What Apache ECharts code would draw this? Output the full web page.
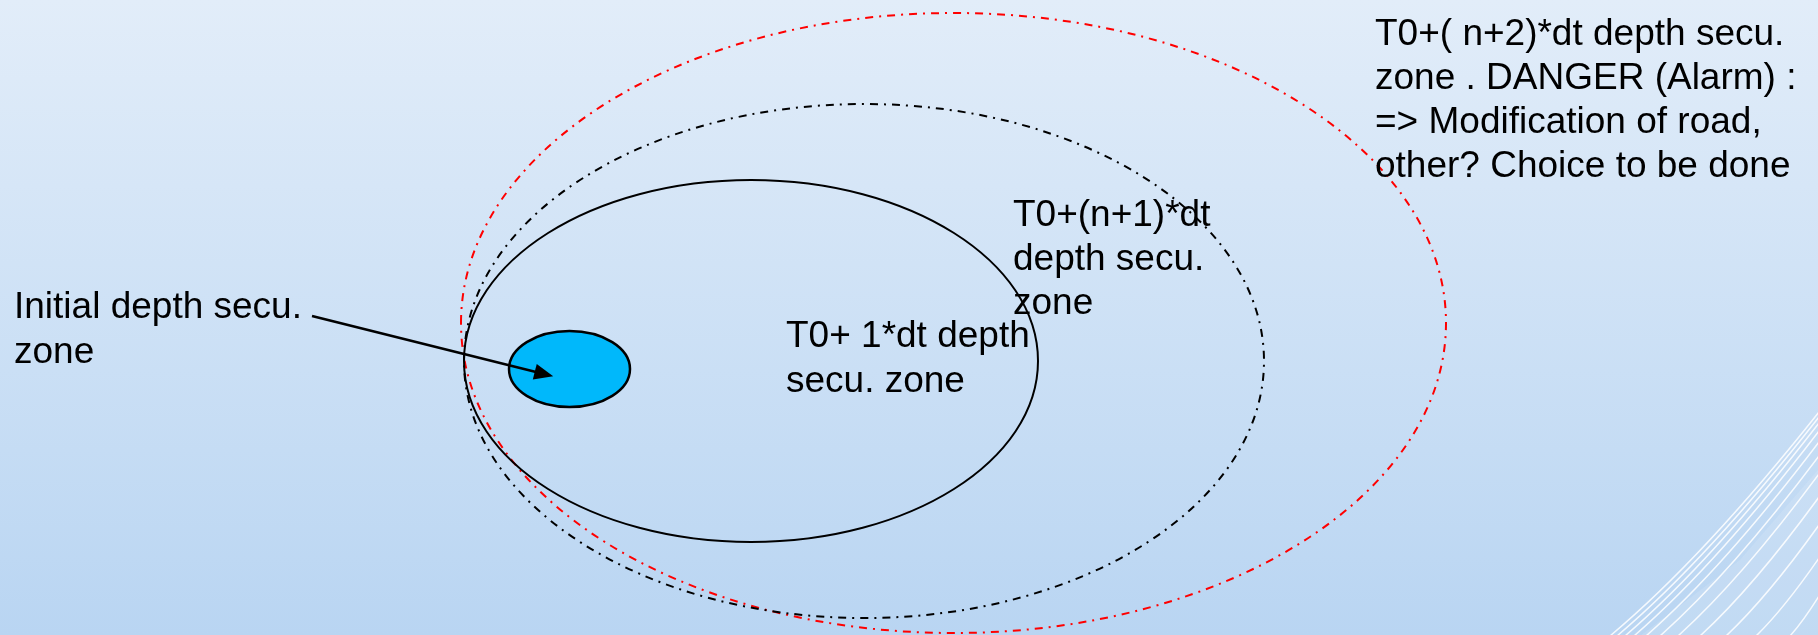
<!DOCTYPE html>
<html>
<head>
<meta charset="utf-8">
<script src="https://cdn.jsdelivr.net/npm/echarts@6/dist/echarts.min.js"></script>
<style>
html, body { margin: 0; padding: 0; }
#main { width: 1818px; height: 635px; }
</style>
</head>
<body>
<div id="main"></div>
<script>
// security zones (x right, y down)
const zoneNames = ['T0+(n+2)*dt', 'T0+(n+1)*dt', 'T0+1*dt', 'Initial']
const centreX = [953.5, 864, 751, 569.5]
const centreY = [323, 361, 361, 369]
const radiusX = [492.5, 400, 287, 60.5]
const radiusY = [310, 257, 181, 38]

// arrow from the label to the initial zone (end = centre of the arrow head)
const arrowFrom = [312, 316]
const arrowTo = [544, 374]

const labelInitial = 'Initial depth secu.\nzone'
const labelStep1 = 'T0+ 1*dt depth\nsecu. zone'
const labelStepN1 = 'T0+(n+1)*dt\ndepth secu.\nzone'
const labelStepN2 = 'T0+( n+2)*dt depth secu.\nzone . DANGER (Alarm) :\n=> Modification of road,\nother? Choice to be done'

const zoneData = zoneNames.map((n, i) => ({ name: n, value: [centreX[i], centreY[i], radiusX[i], radiusY[i]] }))

const zoneStyles = [
  { stroke: '#ff0000', lineWidth: 2, lineDash: [8, 6, 2, 6], fill: 'none' },
  { stroke: '#000000', lineWidth: 2, lineDash: [8, 6, 2, 6], fill: 'none' },
  { stroke: '#000000', lineWidth: 2, fill: 'none' },
  { stroke: '#000000', lineWidth: 2.5, fill: '#00b8fb' }
]

var chartDom = document.getElementById('main')
var myChart = echarts.init(chartDom)
var option

const font = '37px "Liberation Sans", Arial, sans-serif'
function textBlock(text, x, top, lh) {
  return {
    type: 'text',
    z: 100,
    style: { text: text, x: x, y: top, font: font, fill: '#000', lineHeight: lh, verticalAlign: 'top', align: 'left' }
  }
}

// white swoosh lines bottom right (decoration)
const swoosh = []
const bottomXs = [1610, 1617, 1625, 1634, 1646, 1660, 1678, 1700, 1726, 1756, 1790]
const rightYs = [412, 417, 423, 431, 442, 456, 474, 497, 525, 558, 596]
for (let i = 0; i < bottomXs.length; i++) {
  const bx = bottomXs[i], ry = rightYs[i]
  swoosh.push({
    type: 'bezierCurve',
    z: 1,
    silent: true,
    shape: { x1: bx, y1: 636, cpx1: bx + (1818 - bx) * 0.45, cpy1: 636 - (636 - ry) * 0.35, x2: 1819, y2: ry },
    style: { stroke: 'rgba(255,255,255,0.85)', lineWidth: 1.5, fill: null }
  })
}

option = {
  backgroundColor: new echarts.graphic.LinearGradient(0, 0, 0, 1, [
    { offset: 0, color: '#e2edf9' },
    { offset: 1, color: '#b9d5f2' }
  ]),
  animation: false,
  grid: { left: 0, right: 0, top: 0, bottom: 0 },
  xAxis: { type: 'value', min: 0, max: 1818, show: false },
  yAxis: { type: 'value', min: 0, max: 635, inverse: true, show: false },
  graphic: [
    {
      type: 'polygon',
      z: 0,
      silent: true,
      shape: { points: [[1640, 636], [1740, 560], [1818, 470], [1818, 636]] },
      style: { fill: 'rgba(255,255,255,0.12)' }
    },
    ...swoosh,
    textBlock(labelInitial, 14, 285, 45),
    textBlock(labelStep1, 786, 314, 45),
    textBlock(labelStepN1, 1013, 194, 44),
    textBlock(labelStepN2, 1375, 13, 44)
  ],
  series: [
    {
      type: 'custom',
      coordinateSystem: 'cartesian2d',
      silent: true,
      z: 10,
      data: zoneData,
      renderItem: function (params, api) {
        const c = api.coord([api.value(0), api.value(1)])
        const s = api.size([api.value(2), api.value(3)])
        return {
          type: 'ellipse',
          shape: { cx: c[0], cy: c[1], rx: s[0], ry: s[1] },
          style: zoneStyles[params.dataIndex]
        }
      }
    },
    {
      type: 'line',
      data: [],
      z: 20,
      markLine: {
        silent: true,
        z: 30,
        symbol: ['none', 'triangle'],
        symbolSize: [16, 19],
        label: { show: false },
        itemStyle: { color: '#000' },
        lineStyle: { color: '#000', width: 2.5, type: 'solid' },
        data: [[{ coord: arrowFrom }, { coord: arrowTo }]]
      }
    }
  ]
}

option && myChart.setOption(option)
</script>
</body>
</html>
